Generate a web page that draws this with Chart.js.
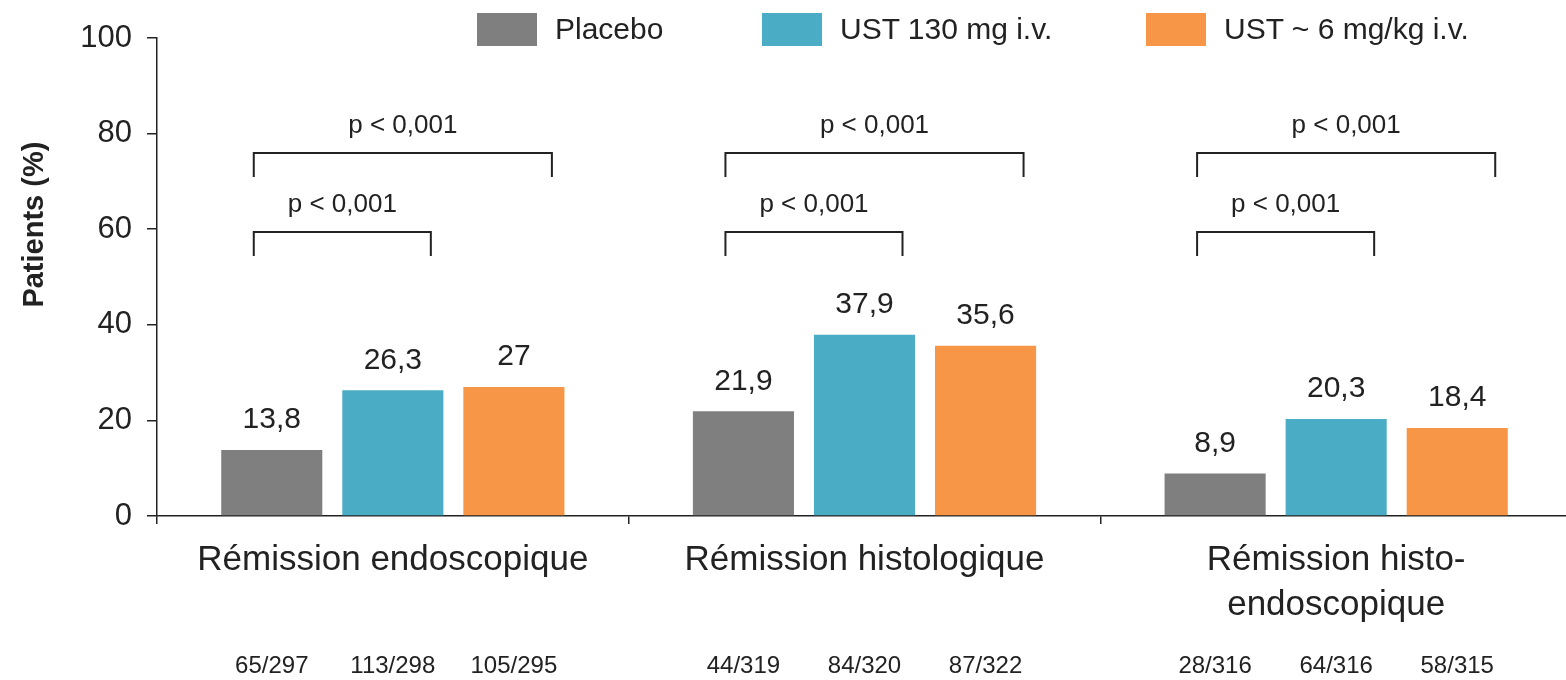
<!DOCTYPE html>
<html>
<head>
<meta charset="utf-8">
<script src="https://cdn.jsdelivr.net/npm/chart.js@4"></script>
<style>
  html, body { margin: 0; padding: 0; background: #fff; }
  #wrap { position: relative; width: 1566px; height: 680px; overflow: hidden; }
  #inner { position: absolute; left: 0; top: 0; width: 1580px; height: 680px; }
  .leg { position: absolute; top: 12px; display: flex; align-items: center; font: 30px "Liberation Sans", Arial, sans-serif; color: #222; }
  .leg span.box { display: inline-block; width: 60px; height: 33px; margin-right: 18px; }
</style>
</head>
<body>
<div id="wrap">
  <div id="inner"><canvas id="chart"></canvas></div>
  <div class="leg" style="left:477px"><span class="box" style="background:#7f7f7f"></span>Placebo</div>
  <div class="leg" style="left:762px"><span class="box" style="background:#4bacc6"></span>UST 130 mg i.v.</div>
  <div class="leg" style="left:1146px"><span class="box" style="background:#f79646"></span>UST ~ 6 mg/kg i.v.</div>
</div>
<script>
const categories = ['Rémission endoscopique', 'Rémission histologique', ['Rémission histo-', 'endoscopique']]
const seriesNames = ['Placebo', 'UST 130 mg i.v.', 'UST ~ 6 mg/kg i.v.']
const placebo = [13.8, 21.9, 8.9]
const ust130 = [26.3, 37.9, 20.3]
const ust6 = [27, 35.6, 18.4]
const nPlacebo = ['65/297', '44/319', '28/316']
const nUst130 = ['113/298', '84/320', '64/316']
const nUst6 = ['105/295', '87/322', '58/315']
const yTicks = [0, 20, 40, 60, 80, 100]
// significance brackets: from dataset a to dataset b, at level (in %)
const brackets = [
    { from: 0, to: 2, level: 76, label: 'p < 0,001' },
    { from: 0, to: 1, level: 59.5, label: 'p < 0,001' }
]

const colors = ['#7f7f7f', '#4bacc6', '#f79646']
const ink = '#222'
Chart.defaults.font.family = '"Liberation Sans", Arial, Helvetica, sans-serif'
Chart.defaults.color = ink

const fmt = v => String(v).replace('.', ',')

const extras = {
    id: 'extras',
    afterDatasetsDraw(chart) {
        const ctx = chart.ctx
        const area = chart.chartArea
        const y = chart.scales.y
        const counts = [nPlacebo, nUst130, nUst6]
        ctx.save()
        ctx.textAlign = 'center'
        ctx.textBaseline = 'middle'
        ctx.fillStyle = ink
        chart.data.datasets.forEach((ds, i) => {
            const meta = chart.getDatasetMeta(i)
            meta.data.forEach((bar, j) => {
                ctx.font = '30px "Liberation Sans", Arial'
                ctx.fillText(fmt(ds.data[j]), bar.x, bar.y - 30)
                ctx.font = '24px "Liberation Sans", Arial'
                ctx.fillText(counts[i][j], bar.x, area.bottom + 150)
            })
        })
        // brackets
        ctx.strokeStyle = '#222'
        ctx.lineWidth = 2
        ctx.font = '26px "Liberation Sans", Arial'
        brackets.forEach(b => {
            const a = chart.getDatasetMeta(b.from).data
            const c = chart.getDatasetMeta(b.to).data
            const py = Math.round(y.getPixelForValue(b.level))
            for (let j = 0; j < a.length; j++) {
                const x1 = a[j].x - 18
                const x2 = c[j].x + 38
                ctx.beginPath()
                ctx.moveTo(x1, py + 24)
                ctx.lineTo(x1, py)
                ctx.lineTo(x2, py)
                ctx.lineTo(x2, py + 24)
                ctx.stroke()
                ctx.fillText(b.label, (x1 + x2) / 2, py - 27)
            }
        })
        ctx.restore()
    }
}

new Chart(document.getElementById('chart'), {
    type: 'bar',
    data: {
        labels: categories,
        datasets: [
            { label: seriesNames[0], data: placebo, backgroundColor: colors[0] },
            { label: seriesNames[1], data: ust130, backgroundColor: colors[1] },
            { label: seriesNames[2], data: ust6, backgroundColor: colors[2] }
        ]
    },
    options: {
        responsive: true,
        maintainAspectRatio: false,
        animation: false,
        categoryPercentage: 0.77,
        barPercentage: 0.835,
        layout: { padding: { left: 0, right: 8, top: 38, bottom: 0 } },
        plugins: {
            legend: { display: false },
            tooltip: { enabled: false }
        },
        scales: {
            x: {
                afterFit: s => { s.height = 164 },
                grid: { display: true, drawOnChartArea: false, offset: true, tickLength: 8, color: '#222', lineWidth: 1.5 },
                border: { display: true, color: '#222', width: 1.5 },
                ticks: {
                    autoSkip: false, maxRotation: 0, padding: 13,
                    font: { size: 35, lineHeight: 1.31 }, color: ink
                }
            },
            y: {
                min: 0,
                max: 100,
                afterFit: s => { s.width = 157 },
                afterBuildTicks: s => { s.ticks = yTicks.map(v => ({ value: v })) },
                grid: { display: true, drawOnChartArea: false, tickLength: 10, color: '#222', lineWidth: 1.5 },
                border: { display: true, color: '#222', width: 1.5 },
                ticks: { padding: 15, font: { size: 31 }, color: ink },
                title: {
                    display: true,
                    text: '\u00a0'.repeat(13) + 'Patients (%)',
                    font: { size: 29, weight: 'bold' },
                    padding: { top: 18, bottom: 0 },
                    color: ink
                }
            }
        }
    },
    plugins: [extras]
})
</script>
</body>
</html>
